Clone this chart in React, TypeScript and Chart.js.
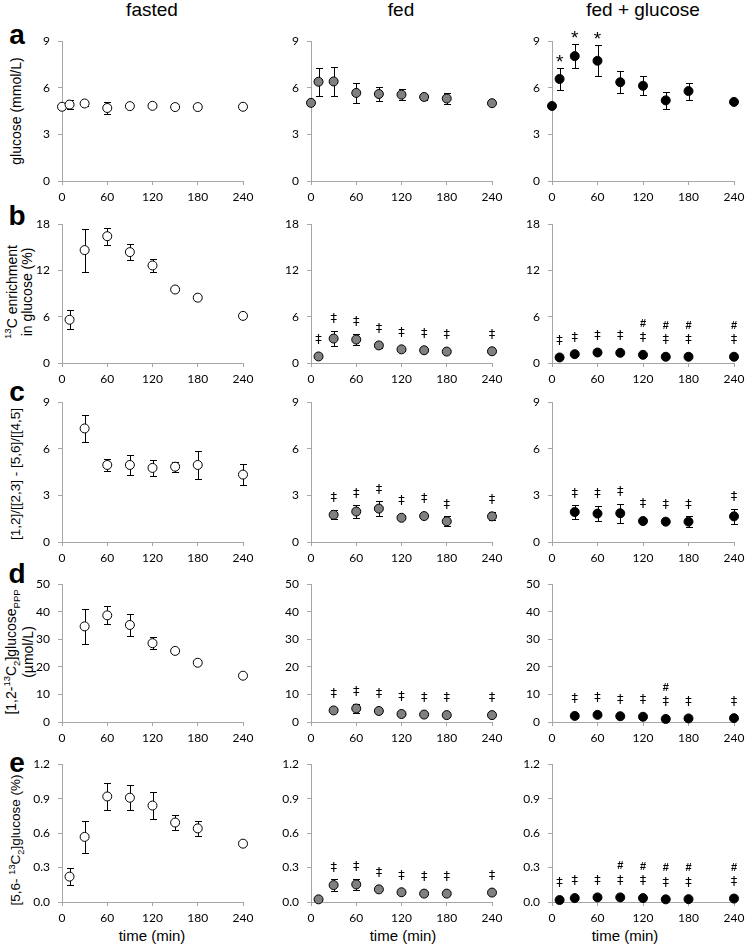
import React, { useEffect, useRef } from 'react';
import { Chart, registerables } from 'chart.js';
Chart.register(...registerables);

// ---------- data ----------
const TIME_A = [0, 10, 30, 60, 90, 120, 150, 180, 240];
const TIME_B = [10, 30, 60, 90, 120, 150, 180, 240];
const TIME_C = [30, 60, 90, 120, 150, 180, 240];
const X_TICKS = [0, 60, 120, 180, 240];

const Y_TICKS_A = [0, 3, 6, 9];
const Y_TICKS_B = [0, 6, 12, 18];
const Y_TICKS_C = [0, 3, 6, 9];
const Y_TICKS_D = [0, 10, 20, 30, 40, 50];
const Y_TICKS_E = [0, 0.3, 0.6, 0.9, 1.2];
const Y_LABELS_E = ['0.0', '0.3', '0.6', '0.9', '1.2'];

// a: glucose (mmol/L)
const glucoseFasted = [4.78, 4.92, 4.99, 4.70, 4.82, 4.84, 4.76, 4.76, 4.78];
const glucoseFastedErr = [0.1, 0.28, 0.15, 0.4, 0.1, 0.1, 0.1, 0.1, 0.1];
const glucoseFed = [5.03, 6.39, 6.41, 5.67, 5.6, 5.56, 5.41, 5.31, 5.01];
const glucoseFedErr = [0, 0.91, 0.93, 0.67, 0.45, 0.36, 0.2, 0.34, 0];
const glucoseFedGlc = [4.83, 6.57, 8.04, 7.74, 6.36, 6.13, 5.19, 5.79, 5.09];
const glucoseFedGlcErr = [0, 0.7, 0.78, 1.0, 0.7, 0.6, 0.53, 0.55, 0];
const glucoseFedGlcSig = ['', '*', '*', '*', '', '', '', '', ''];

// b: 13C enrichment in glucose (%)
const enrFasted = [5.61, 14.64, 16.44, 14.38, 12.65, 9.53, 8.47, 6.11];
const enrFastedErr = [1.22, 2.8, 1.1, 1.05, 0.87, 0.2, 0.2, 0.2];
const enrFed = [0.85, 3.17, 3.04, 2.28, 1.77, 1.65, 1.48, 1.52];
const enrFedErr = [0.2, 1.0, 0.72, 0.3, 0.2, 0.2, 0.2, 0.2];
const enrFedSig = ['‡', '‡', '‡', '‡', '‡', '‡', '‡', '‡'];
const enrFedGlc = [0.72, 1.15, 1.36, 1.32, 1.06, 0.81, 0.81, 0.81];
const enrFedGlcErr = [0.1, 0.1, 0.1, 0.1, 0.1, 0.1, 0.1, 0.1];
const enrFedGlcSig = ['‡', '‡', '‡', '‡', '#‡', '#‡', '#‡', '#‡'];

// c: [1,2]/[[2,3] - [5,6]/[[4,5]
const ratioFasted = [7.31, 4.96, 4.96, 4.77, 4.85, 4.96, 4.34];
const ratioFastedErr = [0.87, 0.36, 0.65, 0.53, 0.33, 0.89, 0.68];
const ratioFed = [1.75, 1.96, 2.15, 1.56, 1.67, 1.33, 1.65];
const ratioFedErr = [0.3, 0.39, 0.47, 0.1, 0.1, 0.32, 0.25];
const ratioFedSig = ['‡', '‡', '‡', '‡', '‡', '‡', '‡'];
const ratioFedGlc = [1.93, 1.83, 1.85, 1.35, 1.31, 1.31, 1.65];
const ratioFedGlcErr = [0.42, 0.48, 0.61, 0.1, 0.1, 0.35, 0.5];
const ratioFedGlcSig = ['‡', '‡', '‡', '‡', '‡', '‡', '‡'];

// d: [1,2-13C2]glucose PPP (umol/L)
const pppFasted = [34.7, 38.7, 35.2, 28.6, 25.8, 21.5, 16.8];
const pppFastedErr = [6.35, 3.3, 4.1, 2.2, 0.5, 0.5, 0.5];
const pppFed = [4.2, 4.9, 4.0, 2.9, 2.7, 2.5, 2.5];
const pppFedErr = [0.5, 1.5, 0.5, 0.5, 0.5, 0.5, 0.5];
const pppFedSig = ['‡', '‡', '‡', '‡', '‡', '‡', '‡'];
const pppFedGlc = [2.2, 2.6, 2.1, 1.9, 1.1, 1.3, 1.4];
const pppFedGlcErr = [0.3, 0.3, 0.3, 0.3, 0.3, 0.3, 0.3];
const pppFedGlcSig = ['‡', '‡', '‡', '‡', '#‡', '‡', '‡'];

// e: [5,6-13C2]glucose (%)
const m56Fasted = [0.221, 0.567, 0.919, 0.908, 0.84, 0.692, 0.641, 0.508];
const m56FastedErr = [0.075, 0.14, 0.116, 0.108, 0.12, 0.067, 0.067, 0.01];
const m56Fed = [0.023, 0.147, 0.153, 0.11, 0.085, 0.073, 0.073, 0.082];
const m56FedErr = [0.005, 0.05, 0.05, 0.01, 0.01, 0.01, 0.01, 0.01];
const m56FedSig = ['', '‡', '‡', '‡', '‡', '‡', '‡', '‡'];
const m56FedGlc = [0.017, 0.034, 0.04, 0.04, 0.034, 0.023, 0.025, 0.03];
const m56FedGlcErr = [0.005, 0.005, 0.005, 0.005, 0.005, 0.005, 0.005, 0.005];
const m56FedGlcSig = ['‡', '‡', '‡', '#‡', '#‡', '#‡', '#‡', '#‡'];

// ---------- layout ----------
const ROW_TOP = [38, 221, 399, 581, 761];
const ROW_BOTTOM = [181, 363, 542, 722, 902];
const COL_LEFT = [62, 311, 552];
const COL_RIGHT = [243, 492, 734];
const YW = 44;
const PT = 12;
const PR = 18;
const XH = 30;
const FILLS = ['#ffffff', '#808080', '#000000'];
const AXIS = '#a6a6a6';
const TICK_FONT = { family: 'Lato', size: 12 };

type PanelDef = {
  row: number; col: number; xs: number[]; ys: number[]; errs: number[];
  sig?: string[]; yTicks: number[]; yLabels?: string[];
};

const PANELS: PanelDef[] = [
  { row: 0, col: 0, xs: TIME_A, ys: glucoseFasted, errs: glucoseFastedErr, yTicks: Y_TICKS_A },
  { row: 0, col: 1, xs: TIME_A, ys: glucoseFed, errs: glucoseFedErr, yTicks: Y_TICKS_A },
  { row: 0, col: 2, xs: TIME_A, ys: glucoseFedGlc, errs: glucoseFedGlcErr, sig: glucoseFedGlcSig, yTicks: Y_TICKS_A },
  { row: 1, col: 0, xs: TIME_B, ys: enrFasted, errs: enrFastedErr, yTicks: Y_TICKS_B },
  { row: 1, col: 1, xs: TIME_B, ys: enrFed, errs: enrFedErr, sig: enrFedSig, yTicks: Y_TICKS_B },
  { row: 1, col: 2, xs: TIME_B, ys: enrFedGlc, errs: enrFedGlcErr, sig: enrFedGlcSig, yTicks: Y_TICKS_B },
  { row: 2, col: 0, xs: TIME_C, ys: ratioFasted, errs: ratioFastedErr, yTicks: Y_TICKS_C },
  { row: 2, col: 1, xs: TIME_C, ys: ratioFed, errs: ratioFedErr, sig: ratioFedSig, yTicks: Y_TICKS_C },
  { row: 2, col: 2, xs: TIME_C, ys: ratioFedGlc, errs: ratioFedGlcErr, sig: ratioFedGlcSig, yTicks: Y_TICKS_C },
  { row: 3, col: 0, xs: TIME_C, ys: pppFasted, errs: pppFastedErr, yTicks: Y_TICKS_D },
  { row: 3, col: 1, xs: TIME_C, ys: pppFed, errs: pppFedErr, sig: pppFedSig, yTicks: Y_TICKS_D },
  { row: 3, col: 2, xs: TIME_C, ys: pppFedGlc, errs: pppFedGlcErr, sig: pppFedGlcSig, yTicks: Y_TICKS_D },
  { row: 4, col: 0, xs: TIME_B, ys: m56Fasted, errs: m56FastedErr, yTicks: Y_TICKS_E, yLabels: Y_LABELS_E },
  { row: 4, col: 1, xs: TIME_B, ys: m56Fed, errs: m56FedErr, sig: m56FedSig, yTicks: Y_TICKS_E, yLabels: Y_LABELS_E },
  { row: 4, col: 2, xs: TIME_B, ys: m56FedGlc, errs: m56FedGlcErr, sig: m56FedGlcSig, yTicks: Y_TICKS_E, yLabels: Y_LABELS_E },
];

function PanelChart({ p }: { p: PanelDef }) {
  const ref = useRef<HTMLCanvasElement>(null);
  const plotW = COL_RIGHT[p.col] - COL_LEFT[p.col];
  const plotH = ROW_BOTTOM[p.row] - ROW_TOP[p.row];
  const W = YW + plotW + PR;
  const H = PT + plotH + XH;
  const left = COL_LEFT[p.col] - YW;
  const top = ROW_TOP[p.row] - PT;

  useEffect(() => {
    const canvas = ref.current!;
    const yMax = p.yTicks[p.yTicks.length - 1];
    const errorBars = {
      id: 'errorBars',
      beforeDatasetsDraw(chart: any) {
        const { ctx, scales } = chart;
        const xs = scales.x, ys = scales.y;
        ctx.save();
        ctx.strokeStyle = '#000';
        ctx.lineWidth = 1;
        p.xs.forEach((xv, i) => {
          const e = p.errs[i];
          if (!e) return;
          const px = Math.round(xs.getPixelForValue(xv)) + 0.5;
          const y1 = Math.round(ys.getPixelForValue(p.ys[i] + e)) + 0.5;
          const y2 = Math.round(ys.getPixelForValue(Math.max(0, p.ys[i] - e))) + 0.5;
          ctx.beginPath();
          ctx.moveTo(px, y1); ctx.lineTo(px, y2);
          ctx.moveTo(px - 3.5, y1); ctx.lineTo(px + 3.5, y1);
          ctx.moveTo(px - 3.5, y2); ctx.lineTo(px + 3.5, y2);
          ctx.stroke();
        });
        ctx.restore();
      },
    };
    const marks = {
      id: 'sigMarks',
      afterDatasetsDraw(chart: any) {
        if (!p.sig) return;
        const { ctx, scales } = chart;
        const xs = scales.x, ys = scales.y;
        ctx.save();
        ctx.fillStyle = '#000';
        ctx.textAlign = 'center';
        ctx.textBaseline = 'middle';
        p.sig.forEach((s, i) => {
          if (!s) return;
          const px = xs.getPixelForValue(p.xs[i]);
          const topPx = Math.min(
            ys.getPixelForValue(p.ys[i] + (p.errs[i] || 0)),
            ys.getPixelForValue(p.ys[i]) - 5,
          );
          const chars = s.split('');
          let cy = topPx - (chars[chars.length - 1] === '*' ? 9 : 12);
          for (let k = chars.length - 1; k >= 0; k--) {
            const c = chars[k];
            if (c === '*') {
              ctx.font = '19px "Liberation Sans"';
              ctx.fillText(c, px, cy + 4);
            } else if (c === '#') {
              ctx.font = 'bold 11px "Liberation Sans"';
              ctx.fillText(c, px, cy);
            } else {
              ctx.font = '13px "DejaVu Sans"';
              ctx.fillText(c, px, cy);
            }
            cy -= 14;
          }
        });
        ctx.restore();
      },
    };
    const chart = new Chart(canvas, {
      type: 'scatter',
      data: {
        datasets: [
          {
            data: p.xs.map((x, i) => ({ x, y: p.ys[i] })),
            pointRadius: 4.5,
            pointHoverRadius: 4.5,
            pointBackgroundColor: FILLS[p.col],
            pointBorderColor: '#000',
            pointBorderWidth: 1,
            showLine: false,
            clip: false as any,
          },
        ],
      },
      options: {
        responsive: false,
        animation: false,
        devicePixelRatio: 1,
        events: [],
        layout: { padding: { top: PT, right: PR, left: 0, bottom: 0 } },
        plugins: { legend: { display: false }, tooltip: { enabled: false } },
        scales: {
          x: {
            type: 'linear',
            min: 0,
            max: 240,
            afterBuildTicks: (s: any) => { s.ticks = X_TICKS.map((v) => ({ value: v })); },
            afterFit: (s: any) => { s.height = XH; },
            ticks: { font: TICK_FONT, color: '#000', padding: 5, maxRotation: 0, autoSkip: false },
            grid: { drawOnChartArea: false, drawTicks: true, tickLength: 4, color: AXIS },
            border: { color: AXIS, width: 1 },
          },
          y: {
            type: 'linear',
            min: 0,
            max: yMax,
            afterBuildTicks: (s: any) => { s.ticks = p.yTicks.map((v) => ({ value: v })); },
            afterFit: (s: any) => { s.width = YW; },
            ticks: {
              font: TICK_FONT,
              color: '#000',
              padding: 8,
              autoSkip: false,
              callback: (v: any, i: number) => (p.yLabels ? p.yLabels[i] : String(p.yTicks[i])),
            },
            grid: { drawOnChartArea: false, drawTicks: true, tickLength: 4, color: AXIS },
            border: { color: AXIS, width: 1 },
          },
        },
      },
      plugins: [errorBars, marks],
    } as any);
    return () => chart.destroy();
  }, []);

  return (
    <canvas
      ref={ref}
      width={W}
      height={H}
      style={{ position: 'absolute', left, top, width: W, height: H }}
    />
  );
}

const SANS = '"Liberation Sans", Arial, sans-serif';

function Txt({ x, y, size, bold, children, rotate, lh }: any) {
  return (
    <div
      style={{
        position: 'absolute',
        left: x,
        top: y,
        transform: `translate(-50%, -50%)${rotate ? ' rotate(-90deg)' : ''}`,
        fontFamily: SANS,
        fontSize: size,
        fontWeight: bold ? 'bold' : 'normal',
        whiteSpace: 'nowrap',
        textAlign: 'center',
        lineHeight: lh || '16px',
        color: '#000',
      }}
    >
      {children}
    </div>
  );
}

const supS = { fontSize: '0.68em', verticalAlign: 'super', lineHeight: 0 } as any;
const subS = { fontSize: '0.68em', verticalAlign: 'sub', lineHeight: 0 } as any;

export default function App() {
  return (
    <div style={{ position: 'absolute', left: 0, top: 0, width: 745, height: 949, background: '#fff', overflow: 'hidden' }}>
      <Txt x={152} y={10} size={19}>fasted</Txt>
      <Txt x={401} y={10} size={19}>fed</Txt>
      <Txt x={643} y={10} size={19}>fed + glucose</Txt>

      <Txt x={17} y={35} size={28} bold lh="28px">a</Txt>
      <Txt x={17} y={216} size={28} bold lh="28px">b</Txt>
      <Txt x={17} y={392} size={28} bold lh="28px">c</Txt>
      <Txt x={17} y={574} size={28} bold lh="28px">d</Txt>
      <Txt x={17} y={763} size={28} bold lh="28px">e</Txt>

      <Txt x={16} y={111} size={14} rotate>glucose (mmol/L)</Txt>
      <Txt x={20} y={292} size={14} rotate lh="15px">
        <span style={supS}>13</span>C enrichment<br />in glucose (%)
      </Txt>
      <Txt x={16} y={474} size={13.5} rotate>[1,2]/[[2,3] - [5,6]/[[4,5]</Txt>
      <Txt x={20} y={652} size={14} rotate lh="17px">
        [1,2-<span style={supS}>13</span>C<span style={subS}>2</span>]glucose<span style={subS}>PPP</span>
        <br />(µmol/L)
      </Txt>
      <Txt x={16} y={840} size={13.5} rotate>
        [5,6- <span style={supS}>13</span>C<span style={subS}>2</span>]glucose (%)
      </Txt>

      <Txt x={152} y={936} size={15}>time (min)</Txt>
      <Txt x={403} y={936} size={15}>time (min)</Txt>
      <Txt x={625} y={936} size={15}>time (min)</Txt>

      {PANELS.map((p, i) => (
        <PanelChart key={i} p={p} />
      ))}
    </div>
  );
}
